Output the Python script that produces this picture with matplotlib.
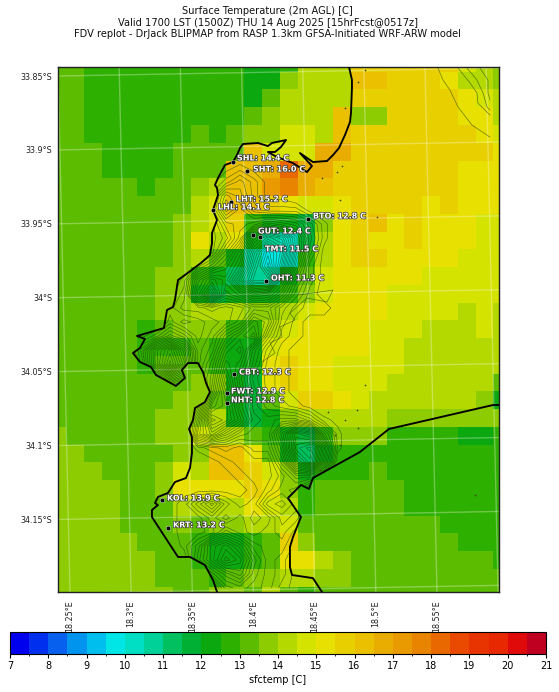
import numpy as np
import matplotlib
matplotlib.use("Agg")
import matplotlib.pyplot as plt
import matplotlib.patheffects as pe
from matplotlib.colors import ListedColormap, BoundaryNorm
from matplotlib.patches import Polygon

title = ("Surface Temperature (2m AGL) [C]\n"
         "Valid 1700 LST (1500Z) THU 14 Aug 2025 [15hrFcst@0517z]\n"
         "FDV replot - DrJack BLIPMAP from RASP 1.3km GFSA-Initiated WRF-ARW model")

# colour bins, 7 to 21 C in 0.5 C steps
temp_bounds = [7 + 0.5 * i for i in range(29)]
temp_colors = ['#0000ee', '#0030ee', '#0860ee', '#0094ee', '#00bfee', '#00e5e5', '#00dfc4',
               '#00d198', '#00c060', '#00b035', '#0ca80f', '#2eb000', '#5cbd00', '#8ccc00',
               '#b3d900', '#d4e300', '#e8e000', '#e8d000', '#ebc000', '#e8ad00', '#e89a00',
               '#e98400', '#ea6800', '#ea4a00', '#e83400', '#e82800', '#e00a0a', '#c00020']

# sfctemp cells, north to south
sfctemp_r00 = [13.2,13.2,12.7,12.7,12.7,12.7,12.7,12.7,12.7,12.7,12.7,12.2,12.2,12.7,14.2,14.2,14.2,15.7,15.7,15.7,15.7,15.7,15.7,14.7,14.2,13.7]
sfctemp_r01 = [13.2,13.2,12.7,12.7,12.7,12.7,12.7,12.7,12.7,12.7,12.7,12.2,12.2,13.7,14.2,14.2,14.2,16.2,16.2,15.7,15.7,15.7,15.2,14.2,14.2,13.7]
sfctemp_r02 = [13.2,13.2,12.7,12.7,12.7,12.7,12.7,12.7,12.7,12.7,12.7,12.2,13.2,14.2,14.2,14.2,14.2,15.7,15.7,15.7,15.7,15.7,15.7,15.2,14.7,14.2]
sfctemp_r03 = [13.2,13.2,12.7,12.7,12.7,12.7,12.7,12.7,12.7,12.7,12.7,13.2,13.7,14.2,14.2,14.2,16.2,13.7,13.7,15.7,15.7,15.7,15.7,15.2,15.2,14.2]
sfctemp_r04 = [13.2,13.2,12.7,12.7,12.7,12.7,12.7,12.7,13.2,12.7,13.2,13.7,13.7,14.7,14.7,14.2,16.2,15.7,15.7,15.7,15.7,15.7,15.7,15.7,15.2,14.7]
sfctemp_r05 = [13.2,13.2,13.2,12.7,12.7,12.7,12.7,13.2,13.2,13.2,13.2,16.2,14.7,14.7,14.7,16.7,16.7,15.7,15.7,15.7,15.7,15.7,15.7,15.7,15.7,15.2]
sfctemp_r06 = [13.2,13.2,13.2,12.7,12.7,12.7,12.7,13.2,13.2,13.2,16.2,16.2,16.7,18.2,16.7,16.7,15.7,15.7,15.7,15.7,15.7,15.7,15.7,15.2,15.2,15.2]
sfctemp_r07 = [13.2,13.2,13.2,13.2,13.2,12.7,13.2,13.2,13.7,14.2,16.2,16.2,17.2,17.7,16.7,16.2,15.7,15.7,15.7,15.7,15.7,15.7,15.7,15.2,15.2,15.2]
sfctemp_r08 = [13.2,13.2,13.2,13.2,13.2,13.2,13.2,13.2,14.2,14.7,16.2,16.2,15.7,15.2,14.7,14.7,15.2,15.7,15.7,15.7,15.7,15.2,15.7,15.2,15.2,15.2]
sfctemp_r09 = [13.2,13.2,13.2,13.2,13.2,13.2,13.2,13.7,14.2,14.7,15.7,12.7,12.2,12.2,11.7,13.7,15.2,15.7,16.2,15.2,15.7,15.2,15.2,15.2,14.7,14.7]
sfctemp_r10 = [13.2,13.2,13.2,13.2,13.2,13.2,13.2,13.7,15.2,14.2,15.2,12.2,10.7,10.2,11.7,14.2,15.2,15.7,15.2,15.2,15.7,15.2,15.2,15.2,14.7,14.7]
sfctemp_r11 = [13.2,13.2,13.2,13.2,13.2,13.2,13.2,13.7,14.2,13.2,12.2,10.7,9.7,10.2,12.7,14.2,15.2,15.7,15.7,15.2,15.2,15.2,15.2,14.7,14.7,14.7]
sfctemp_r12 = [13.2,13.2,13.2,13.2,13.2,13.2,13.7,13.7,12.7,12.2,11.2,10.7,10.7,12.2,13.2,14.7,15.2,15.2,15.2,15.2,15.2,14.7,14.7,14.7,14.7,14.7]
sfctemp_r13 = [13.2,13.2,13.2,13.2,13.2,13.2,13.7,13.7,12.2,11.7,12.2,12.2,12.2,12.7,13.7,14.7,15.2,15.2,15.2,14.7,14.7,14.7,14.7,14.7,14.7,14.7]
sfctemp_r14 = [13.2,13.2,13.2,13.2,13.2,13.2,13.7,13.7,14.2,14.2,14.2,13.7,13.7,14.2,14.7,15.2,15.2,15.2,15.2,14.7,14.7,14.7,14.7,14.2,14.7,14.2]
sfctemp_r15 = [13.2,13.2,13.2,13.2,13.2,12.7,13.2,13.7,13.7,13.7,12.7,12.7,14.2,14.7,15.2,15.2,15.2,15.2,14.7,14.7,14.7,14.2,14.2,14.2,14.7,14.2]
sfctemp_r16 = [13.2,13.2,13.2,13.2,13.2,12.7,12.7,12.7,13.2,12.7,12.2,12.2,14.7,15.2,15.2,15.2,15.2,15.2,14.7,14.7,14.2,14.2,14.2,14.2,14.2,14.2]
sfctemp_r17 = [13.2,13.2,13.2,13.2,13.2,12.7,13.2,13.2,13.2,12.7,12.2,12.2,15.2,15.7,15.2,15.2,14.7,14.7,14.7,14.7,14.2,14.2,14.2,14.2,14.2,14.2]
sfctemp_r18 = [13.2,13.2,13.2,13.2,13.2,13.2,13.2,13.2,13.7,13.7,12.2,11.7,15.2,15.7,15.2,15.2,14.7,14.7,14.7,14.2,14.2,14.2,14.2,14.2,14.2,13.2]
sfctemp_r19 = [13.2,13.2,13.2,13.2,13.2,13.2,13.2,13.7,13.7,13.2,12.2,11.7,13.2,14.7,15.7,15.7,15.2,14.7,14.2,14.2,14.2,14.2,14.2,14.2,13.7,12.2]
sfctemp_r20 = [13.2,13.2,13.2,13.2,13.2,13.2,13.7,13.7,13.7,14.2,12.2,11.7,12.2,13.7,14.2,14.2,14.2,14.2,14.2,13.7,13.7,13.7,13.7,13.7,13.7,13.7]
sfctemp_r21 = [13.7,13.2,13.2,13.2,13.2,13.2,13.7,13.7,14.7,14.2,14.2,13.2,12.7,12.2,11.7,12.7,13.7,13.7,13.7,12.7,12.7,12.7,12.7,12.2,12.2,12.7]
sfctemp_r22 = [13.7,13.7,13.2,13.2,13.2,13.2,13.2,13.7,13.7,16.2,16.2,15.2,13.2,12.2,11.2,12.2,12.7,12.7,12.7,12.7,12.7,12.7,12.7,12.7,12.7,12.7]
sfctemp_r23 = [13.7,13.7,13.7,13.2,13.2,13.2,13.7,14.7,14.2,16.2,16.2,15.7,14.7,13.7,12.2,12.7,12.7,12.7,13.2,12.7,12.7,12.7,12.7,12.7,12.7,12.7]
sfctemp_r24 = [13.7,13.7,13.7,13.7,13.2,13.2,13.7,15.2,15.2,15.2,15.2,15.7,15.2,13.7,12.7,13.2,13.2,13.2,13.2,13.2,12.7,12.7,12.7,12.7,12.7,12.7]
sfctemp_r25 = [13.7,13.7,13.7,13.7,13.2,13.2,13.2,14.2,14.2,14.2,14.2,15.2,14.7,14.2,12.7,13.2,13.2,13.2,13.2,13.2,12.7,12.7,12.7,12.7,12.7,12.7]
sfctemp_r26 = [13.7,13.7,13.7,13.7,13.2,13.2,13.2,13.7,13.2,13.7,13.7,14.2,14.2,14.7,13.2,13.2,13.2,13.2,13.2,13.2,13.2,13.2,12.7,12.7,12.7,12.7]
sfctemp_r27 = [13.7,13.7,13.7,13.7,13.7,13.2,13.2,13.2,12.7,12.2,12.2,12.7,13.2,15.7,13.7,13.2,13.2,13.2,13.2,13.2,13.2,13.2,13.2,12.7,12.7,12.7]
sfctemp_r28 = [13.7,13.7,13.7,13.7,13.7,13.7,13.2,13.2,12.7,12.2,12.2,12.7,13.2,15.2,15.2,14.2,13.7,13.2,13.2,13.2,13.2,13.2,13.2,13.2,13.2,12.7]
sfctemp_r29 = [13.7,13.7,13.7,13.7,13.7,13.7,13.2,13.2,13.2,12.7,13.2,13.7,13.7,14.2,14.2,13.7,13.7,13.2,13.2,13.2,13.2,13.2,13.2,13.2,13.2,13.2]
sfctemp_r30 = [13.7,13.7,13.7,13.7,13.7,13.7,13.7,13.2,13.2,13.7,13.7,13.2,14.2,13.2,12.7,13.2,13.2,13.2,13.2,13.2,13.2,13.2,13.2,13.2,13.2,13.2]
sfctemp = np.array([sfctemp_r00, sfctemp_r01, sfctemp_r02, sfctemp_r03, sfctemp_r04, sfctemp_r05,
                    sfctemp_r06, sfctemp_r07, sfctemp_r08, sfctemp_r09, sfctemp_r10, sfctemp_r11,
                    sfctemp_r12, sfctemp_r13, sfctemp_r14, sfctemp_r15, sfctemp_r16, sfctemp_r17,
                    sfctemp_r18, sfctemp_r19, sfctemp_r20, sfctemp_r21, sfctemp_r22, sfctemp_r23,
                    sfctemp_r24, sfctemp_r25, sfctemp_r26, sfctemp_r27, sfctemp_r28, sfctemp_r29,
                    sfctemp_r30])

# rough terrain over the peninsula (contour units), north to south, west to east
terrain = np.array([
    [0,0,0,0,0,0,0,0,0,0,0,0,0,0,0,0,0],
    [0,0,0,0,0,0,0,0,0,0,0,0,0,0,0,0,0],
    [0,0,0,0,0,0,0,1,2,1,0,0,0,0,0,0,0],
    [0,0,0,0,0,0,1,3,5,3,1,0,0,0,0,0,0],
    [0,0,0,0,0,0,3,8,6,3,1,1,0,0,0,0,0],
    [0,0,0,0,0,0,4,10,7,4,3,3,3,1,0,0,0],
    [0,0,0,0,0,0,2,6,7,8,10,9,8,5,2,0,0],
    [0,0,0,0,0,0,2,4,8,16,20,18,12,6,2,0,0],
    [0,0,0,0,0,1,2,7,12,20,26,22,12,5,1,0,0],
    [0,0,0,0,1,4,7,10,14,22,28,20,10,3,1,0,0],
    [0,0,0,1,3,10,14,12,18,24,24,14,7,3,1,1,0],
    [0,0,0,2,4,12,18,10,12,15,14,10,5,2,1,1,0],
    [0,0,0,3,5,5,6,5,6,8,8,5,3,2,2,1,0],
    [0,0,1,4,2,3,4,5,7,12,10,4,2,1,1,1,0],
    [0,3,5,8,6,3,5,9,12,14,7,3,2,1,1,0,0],
    [2,7,14,18,12,4,6,12,14,8,4,2,1,1,0,0,0],
    [0,6,14,20,14,4,8,14,12,7,3,2,1,1,0,0,0],
    [0,0,6,10,6,5,9,16,10,5,3,2,1,0,0,0,0],
    [0,0,0,0,0,0,10,18,11,6,3,2,1,1,0,0,0],
    [0,0,0,0,0,4,14,16,10,6,4,3,2,1,0,0,0],
    [0,0,0,0,0,8,18,16,12,7,6,7,7,5,2,1,0],
    [0,0,0,0,0,10,14,10,7,6,6,12,18,16,7,2,0],
    [0,0,0,0,0,2,3,4,3,5,5,10,20,22,12,2,0],
    [0,0,0,0,0,0,1,2,3,3,3,8,16,20,10,0,0],
    [0,0,0,0,0,0,0,1,2,3,3,5,8,8,2,0,0],
    [0,0,0,0,1,1,1,1,1,2,4,6,5,1,0,0,0],
    [0,0,1,1,2,5,8,4,2,3,7,8,6,2,0,0,0],
    [0,0,0,1,2,2,4,2,4,2,3,6,5,2,0,0,0],
    [0,0,0,1,2,2,3,6,4,3,4,5,3,0,0,0,0],
    [0,0,0,0,2,5,10,12,9,5,4,4,2,0,0,0,0],
    [0,0,0,0,0,6,10,14,12,7,4,3,1,0,0,0,0],
    [0,0,0,0,0,0,5,8,10,6,4,3,1,0,0,0,0],
    [0,0,0,0,0,0,0,5,6,5,4,2,1,0,0,0,0],
])

# coastlines
west_coast_lon = [18.4781,18.4805,18.4805,18.4797,18.4789,18.4748,18.4699,18.4650,18.4601,18.4486,18.4380,18.4478,18.4437,18.4323,
                  18.4257,18.4192,18.4118,18.4176,18.4225,18.4266,18.4151,18.4118,18.4037,18.3914,18.3890,18.3865,18.3832,18.3767,
                  18.3710,18.3685,18.3702,18.3710,18.3669,18.3702,18.3661,18.3661,18.3644,18.3571,18.3440,18.3383,18.3358,18.3342,
                  18.3293,18.3268,18.3048,18.3113,18.3072,18.3015,18.3072,18.3162,18.3203,18.3366,18.3440,18.3415,18.3465,18.3546,
                  18.3587,18.3612,18.3644,18.3603,18.3522,18.3505,18.3473,18.3497,18.3497,18.3481,18.3448,18.3358,18.3301,18.3219,
                  18.3195,18.3219,18.3170,18.3170,18.3383,18.3481,18.3603,18.3669,18.3702]
west_coast_lat = [-33.8439,-33.8527,-33.8581,-33.8750,-33.8811,-33.8899,-33.8987,-33.9035,-33.9075,-33.9082,-33.9021,-33.9109,-33.9150,-33.9089,
                  -33.9068,-33.9048,-33.9014,-33.9014,-33.8980,-33.8933,-33.8953,-33.8974,-33.8953,-33.8960,-33.8987,-33.9035,-33.9082,-33.9102,
                  -33.9190,-33.9237,-33.9258,-33.9305,-33.9407,-33.9474,-33.9562,-33.9630,-33.9711,-33.9765,-33.9846,-33.9880,-34.0016,-34.0063,
                  -34.0083,-34.0205,-34.0259,-34.0279,-34.0340,-34.0374,-34.0435,-34.0469,-34.0523,-34.0597,-34.0543,-34.0489,-34.0442,-34.0442,
                  -34.0503,-34.0577,-34.0638,-34.0706,-34.0746,-34.0828,-34.0888,-34.0943,-34.1051,-34.1152,-34.1220,-34.1247,-34.1321,-34.1348,
                  -34.1389,-34.1403,-34.1436,-34.1484,-34.1754,-34.1754,-34.1809,-34.1910,-34.1991]
east_coast_lon = [18.4560,18.4486,18.4315,18.4298,18.4298,18.4323,18.4388,18.4282,18.4388,18.4454,18.4486,18.4870,18.5108,18.5958,18.6007]
east_coast_lat = [-34.1991,-34.1897,-34.1876,-34.1822,-34.1687,-34.1619,-34.1484,-34.1355,-34.1267,-34.1294,-34.1220,-34.1044,-34.0888,-34.0726,-34.0726]

# contours in the north east corner
ne_shore_lon = [18.5508,18.5549,18.5606,18.5672,18.5786,18.5933]
ne_shore_lat = [-33.8446,-33.8527,-33.8595,-33.8710,-33.8832,-33.8913]
ne_hill1_lon = [18.5672,18.5770,18.5827,18.5835,18.5933]
ne_hill1_lat = [-33.8446,-33.8547,-33.8615,-33.8683,-33.8764]
ne_hill2_lon = [18.5745,18.5827,18.5876,18.5909,18.5933]
ne_hill2_lat = [-33.8446,-33.8527,-33.8615,-33.8710,-33.8730]
ne_hill3_lon = [18.5851,18.5917,18.5917,18.5933]
ne_hill3_lat = [-33.8446,-33.8527,-33.8615,-33.8662]

# wandering contour on the flats east of the mountains
flats_lon = [18.4364,18.4486,18.4650,18.4601,18.4437,18.4298,18.4339,18.4217,18.4233,18.4135,18.4176,18.4069]
flats_lat = [-33.9982,-33.9968,-33.9948,-34.0029,-34.0002,-34.0104,-34.0151,-34.0198,-34.0266,-34.0307,-34.0374,-34.0435]

# small ponds
pond_lon = [18.4748,18.4854,18.4911,18.4682,18.4560,18.4723,18.4707,18.5009,18.4911,18.4846,18.4748,18.4854,18.5810,18.4707,18.4609,18.4666,18.4544]
pond_lat = [-33.8717,-33.8541,-33.8459,-33.9150,-33.9190,-33.9109,-33.9339,-33.9454,-34.0591,-34.0760,-34.0828,-34.0882,-34.1335,-34.0997,-34.0773,-34.0929,-34.1166]

# stations
station_names = ['SHL', 'SHT', 'LHT', 'LHL', 'GUT', 'TMT', 'BTO', 'OHT', 'CBT', 'FWT', 'NHT', 'KOL', 'KRT']
station_lon = [18.3832, 18.3947, 18.3816, 18.3669, 18.3996, 18.4053, 18.4445, 18.4102, 18.3841, 18.3783, 18.3783, 18.3252, 18.3301]
station_lat = [-33.9082, -33.9143, -33.9353, -33.9407, -33.9576, -33.9589, -33.9468, -33.9887, -34.0516, -34.0645, -34.0712, -34.1369, -34.1558]
station_temp = [14.4, 16.0, 15.2, 14.1, 12.4, 11.5, 12.8, 11.3, 12.3, 12.9, 12.8, 13.9, 13.2]

lon_ticks = [18.25, 18.3, 18.35, 18.4, 18.45, 18.5, 18.55]
lon_labels = ['18.25°E', '18.3°E', '18.35°E', '18.4°E', '18.45°E', '18.5°E', '18.55°E']
lat_ticks = [-33.85, -33.9, -33.95, -34.0, -34.05, -34.1, -34.15]
lat_labels = ['33.85°S', '33.9°S', '33.95°S', '34°S', '34.05°S', '34.1°S', '34.15°S']

W, H = 559, 692
fig = plt.figure(figsize=(W / 100, H / 100), dpi=100)
ax = fig.add_axes([58 / W, 1 - 592 / H, 441 / W, 525 / H])

cmap = ListedColormap(temp_colors)
norm = BoundaryNorm(temp_bounds, cmap.N)
lon_edges = 18.2323 + 0.01455 * np.arange(27)
lat_edges = -33.8351 - 0.01201 * np.arange(32)
mesh = ax.pcolormesh(lon_edges, lat_edges, sfctemp, cmap=cmap, norm=norm, linewidth=0, rasterized=True)

# graticule leans a little, map is Lambert
for lon in lon_ticks + [18.6]:
    ax.plot([lon - 0.0098, lon], [-33.8439, -34.1991], color='white', alpha=0.3, lw=1.0, zorder=2)
for lat in lat_ticks + [-34.2]:
    ax.plot([18.2402, 18.6007], [lat, lat + 0.0054], color='white', alpha=0.3, lw=1.0, zorder=2)

# terrain contours, land only
terrain_lon = np.linspace(18.2974, 18.4805, terrain.shape[1])
terrain_lat = np.linspace(-33.8933, -34.1964, terrain.shape[0])
land_lon = [18.6007] + west_coast_lon + east_coast_lon
land_lat = [-33.8439] + west_coast_lat + east_coast_lat
land = Polygon(np.column_stack([land_lon, land_lat]), closed=True, transform=ax.transData,
               facecolor='none', edgecolor='none')
ax.add_patch(land)
cs = ax.contour(terrain_lon, terrain_lat, terrain, levels=np.arange(1.5, 30, 1.0),
                colors='#143c0a', linewidths=0.4, alpha=0.7, zorder=3)
cs.set_clip_path(land)

for lons, lats in [(ne_shore_lon, ne_shore_lat), (ne_hill1_lon, ne_hill1_lat),
                   (ne_hill2_lon, ne_hill2_lat), (ne_hill3_lon, ne_hill3_lat),
                   (flats_lon, flats_lat)]:
    ax.plot(lons, lats, color='#143c0a', lw=0.5, alpha=0.6, zorder=3)
ax.scatter(pond_lon, pond_lat, s=1.5, color='#3a4a10', linewidths=0, zorder=3)

ax.plot(west_coast_lon, west_coast_lat, color='black', lw=1.35, zorder=4, solid_joinstyle='round')
ax.plot(east_coast_lon, east_coast_lat, color='black', lw=1.35, zorder=4, solid_joinstyle='round')

# label offsets are in points from the station marker
label_dx = [2.9, 4.3, 3.6, 3.6, 3.6, 3.6, 3.6, 3.6, 3.6, 2.9, 2.9, 3.6, 3.6]
label_dy = [2.9, 1.4, 2.2, 2.2, 2.9, -8.6, 2.2, 2.2, 1.4, 1.4, 2.2, 1.4, 2.2]
ax.scatter(station_lon, station_lat, s=11, color='black', edgecolors='white', linewidths=0.3, zorder=5)
for i, name in enumerate(station_names):
    ax.annotate(f'{name}: {station_temp[i]:.1f} C', (station_lon[i], station_lat[i]),
                xytext=(label_dx[i], label_dy[i]), textcoords='offset points',
                fontsize=5.8, fontweight='bold', color='white', va='center', ha='left', zorder=6,
                path_effects=[pe.withStroke(linewidth=1.0, foreground='#333333')])

ax.set_xlim(18.2402, 18.6007)
ax.set_ylim(-34.1991, -33.8439)
ax.set_xticks(lon_ticks)
ax.set_xticklabels(lon_labels, rotation=90, fontsize=5.8, color='#222222')
ax.set_yticks(lat_ticks)
ax.set_yticklabels(lat_labels, fontsize=5.8, color='#222222')
ax.tick_params(axis='x', length=0, pad=6)
ax.tick_params(axis='y', length=0, pad=4)
for spine in ax.spines.values():
    spine.set_linewidth(1.0)
    spine.set_color('#222222')

fig.text(267.5 / W, 1 - 6.5 / H, title, ha='center', va='top', fontsize=7.15, linespacing=1.17, color='#111111')

cax = fig.add_axes([10 / W, 1 - 654 / H, 536 / W, 22 / H])
cb = fig.colorbar(mesh, cax=cax, orientation='horizontal', ticks=list(range(7, 22)), spacing='proportional')
cax.set_xticks(temp_bounds, minor=True)
cax.tick_params(axis='x', which='major', labelsize=7, length=3, pad=2)
cax.tick_params(axis='x', which='minor', length=1.5)
cb.set_label('sfctemp [C]', fontsize=7, labelpad=3)
cb.outline.set_linewidth(0.8)

fig.savefig('out.png', dpi=100)
